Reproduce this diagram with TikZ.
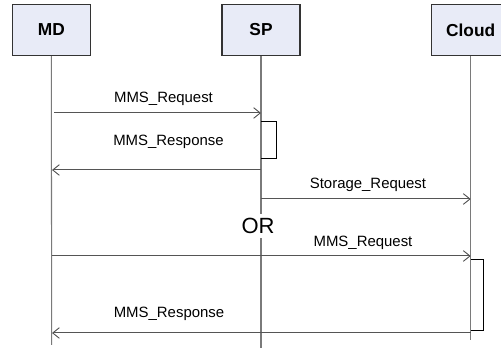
\documentclass[tikz,border=0pt]{standalone}
\usepackage{fontspec}
\setmainfont{Liberation Sans}
\usetikzlibrary{arrows.meta}
\definecolor{boxfill}{HTML}{E8EBF7}
\definecolor{boxline}{HTML}{333333}
\definecolor{lifeline}{HTML}{7A7A7A}
\definecolor{msgline}{HTML}{555555}
\tikzset{
  actor/.style={draw=boxline, line width=0.9pt, fill=boxfill,
    minimum width=58.5pt, minimum height=38.3pt, inner sep=0pt,
    font=\fontsize{13}{15}\selectfont\bfseries},
  lifeln/.style={draw=lifeline, line width=0.8pt},
  msg/.style={draw=msgline, line width=0.75pt,
    -{Straight Barb[length=5pt,width=8pt,line width=0.7pt]}},
  msglabel/.style={anchor=base, inner sep=0pt,
    font=\fontsize{11.2}{13}\selectfont},
  activation/.style={draw=black, line width=0.7pt},
}
\begin{document}
\begin{tikzpicture}[x=0.75pt, y=-0.75pt]
  \useasboundingbox (0,0) rectangle (501,349);

  % participants
  \node[actor] (md) at (51.3,30) {MD};
  \node[actor] (sp) at (261,30) {SP};
  \node[actor] (cloud) at (470.7,30) {Cloud};

  % lifeline ends
  \coordinate (mdend) at (51.7,345);
  \coordinate (spend) at (261,348);
  \coordinate (clend) at (470.7,340);
  \draw[lifeln] (md.south) -- (mdend);
  \draw[lifeln] (sp.south) -- (spend);
  \draw[lifeln] (cloud.south) -- (clend);

  % message anchor points on the lifelines
  \coordinate (r1a) at (54,113);
  \coordinate (r1b) at (261,113);
  \coordinate (s1a) at (261,170);
  \coordinate (s1b) at (52,170);
  \coordinate (t1a) at (261,199);
  \coordinate (t1b) at (470.7,199);
  \coordinate (r2a) at (52,256);
  \coordinate (r2b) at (470.7,256);
  \coordinate (s2a) at (470.7,333);
  \coordinate (s2b) at (52,333);

  % activation bars
  \draw[activation] (261,121) -- (276,121) -- (276,158) -- (261,158);
  \draw[activation] (471,259) -- (483,259) -- (483,330) -- (471,330);

  % messages
  \draw[msg] (r1a) -- (r1b);
  \node[msglabel] (l1) at (163.5,103) {MMS\_Request};
  \draw[msg] (s1a) -- (s1b);
  \node[msglabel] (l2) at (168.5,146) {MMS\_Response};
  \draw[msg] (t1a) -- (t1b);
  \node[msglabel] (l3) at (368,189) {Storage\_Request};

  \node[fill=white, inner xsep=1pt, inner ysep=3pt,
        font=\fontsize{16.5}{18}\selectfont] (or) at (258,226) {OR};

  \draw[msg] (r2a) -- (r2b);
  \node[msglabel] (l4) at (363,247) {MMS\_Request};
  \draw[msg] (s2a) -- (s2b);
  \node[msglabel] (l5) at (169,318) {MMS\_Response};
\end{tikzpicture}
\end{document}
